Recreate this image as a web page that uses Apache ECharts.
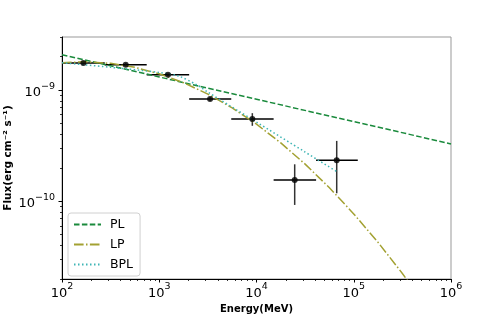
<!DOCTYPE html>
<html><head><meta charset="utf-8">
<script src="https://cdn.jsdelivr.net/npm/echarts@6/dist/echarts.min.js"></script>
<style>html,body{margin:0;padding:0;background:#fff}#c{width:501px;height:314px}</style>
</head><body><div id="c"></div>
<script>
// Observed data points (MeV, erg cm^-2 s^-1)
const energy = [166, 452, 1230, 3330, 9060, 24700, 66800];
const flux = [1.75e-9, 1.69e-9, 1.37e-9, 8.3e-10, 5.48e-10, 1.556e-10, 2.34e-10];
const energyLow = [100, 275, 743, 2030, 5500, 15000, 41000];
const energyHigh = [275, 743, 2030, 5500, 15000, 41000, 110000];
const fluxLow = [1.70e-9, 1.64e-9, 1.33e-9, 8.0e-10, 4.77e-10, 9.27e-11, 1.18e-10];
const fluxHigh = [1.80e-9, 1.74e-9, 1.41e-9, 8.6e-10, 6.2e-10, 2.15e-10, 3.49e-10];

// Model curves
const plEnergy = [100, 1000, 10000, 100000, 1000000];
const plFlux = [2.08e-9, 1.311e-9, 8.26e-10, 5.21e-10, 3.28e-10];

const lpEnergy = [100, 177.8, 316.2, 562.3, 1000, 1778, 3162, 5623, 10000, 17783, 31623, 56234, 100000, 177828, 316228, 562341];
const lpFlux = [1.762e-9, 1.795e-9, 1.738e-9, 1.600e-9, 1.400e-9, 1.164e-9, 9.20e-10, 6.91e-10, 4.93e-10, 3.346e-10, 2.158e-10, 1.322e-10, 7.70e-11, 4.27e-11, 2.244e-11, 1.122e-11];

const bplEnergy = [100, 316.2, 1000, 1585, 2512, 3162, 10000, 31623, 66834];
const bplFlux = [1.762e-9, 1.601e-9, 1.439e-9, 1.334e-9, 1.096e-9, 9.58e-10, 5.15e-10, 2.77e-10, 1.85e-10];

const seriesNames = ['PL', 'LP', 'BPL'];

// Tick positions
const xMajorTicks = [1e2, 1e3, 1e4, 1e5, 1e6];
const xMinorTicks = [200, 300, 400, 500, 600, 700, 800, 900,
  2000, 3000, 4000, 5000, 6000, 7000, 8000, 9000,
  20000, 30000, 40000, 50000, 60000, 70000, 80000, 90000,
  200000, 300000, 400000, 500000, 600000, 700000, 800000, 900000];
const yMajorTicks = [1e-10, 1e-9];
const yMinorTicks = [2e-11, 3e-11, 4e-11, 5e-11, 6e-11, 7e-11, 8e-11, 9e-11,
  2e-10, 3e-10, 4e-10, 5e-10, 6e-10, 7e-10, 8e-10, 9e-10, 2e-9, 3e-9];

const FONT = 'DejaVu Sans';
const pair = (xs, ys) => xs.map((x, i) => [x, ys[i]]);

function powLabel(v) {
  const p = Math.round(Math.log10(v));
  return '{b|10}{s|' + (p < 0 ? '\u2212' : '') + Math.abs(p) + '}';
}
const labelRich = {
  b: { fontFamily: FONT, fontSize: 13, color: '#000', lineHeight: 18, verticalAlign: 'bottom' },
  s: { fontFamily: FONT, fontSize: 9.5, color: '#000', verticalAlign: 'top' }
};

const X = { min: 100, max: 1e6 };
const Y = { min: 2e-11, max: 3e-9 };

const chart = echarts.init(document.getElementById('c'), null, { renderer: 'canvas' });
chart.setOption({
  animation: false,
  backgroundColor: '#fff',
  grid: { left: 62, right: 50, top: 37, bottom: 35, show: true, borderColor: '#999', borderWidth: 1, backgroundColor: 'transparent', containLabel: false, outerBoundsMode: 'none' },
  legend: {
    data: seriesNames, orient: 'vertical', left: 68, top: 213,
    itemWidth: 27, itemHeight: 12, itemGap: 7,
    padding: [5, 7, 5, 5],
    itemStyle: { opacity: 0 },
    borderColor: '#d0d0d0', borderWidth: 1, borderRadius: 3, backgroundColor: '#fff',
    textStyle: { fontFamily: FONT, fontSize: 12.5, color: '#000', padding: [0, 0, 0, 4] }
  },
  xAxis: [{
    type: 'log', logBase: 10, min: X.min, max: X.max, position: 'bottom',
    axisLine: { show: true, onZero: false, lineStyle: { color: '#000', width: 1 } },
    axisTick: { show: true, length: 3.5, customValues: xMajorTicks, lineStyle: { color: '#000', width: 1 } },
    axisLabel: { customValues: xMajorTicks, formatter: powLabel, rich: labelRich, margin: 3, color: '#000' },
    splitLine: { show: false },
    name: 'Energy(MeV)', nameLocation: 'middle', nameGap: 17,
    nameTextStyle: { fontFamily: FONT, fontSize: 10, fontWeight: 'bold', color: '#000' }
  }, {
    type: 'log', logBase: 10, min: X.min, max: X.max, position: 'bottom',
    axisLine: { show: false, onZero: false },
    axisTick: { show: true, length: 2, customValues: xMinorTicks, lineStyle: { color: '#000', width: 0.8 } },
    axisLabel: { show: false },
    splitLine: { show: false }
  }],
  yAxis: [{
    type: 'log', logBase: 10, min: Y.min, max: Y.max, position: 'left',
    axisLine: { show: true, onZero: false, lineStyle: { color: '#000', width: 1 } },
    axisTick: { show: true, length: 3.5, customValues: yMajorTicks, lineStyle: { color: '#000', width: 1 } },
    axisLabel: { customValues: yMajorTicks, formatter: powLabel, rich: labelRich, margin: 7, color: '#000' },
    splitLine: { show: false },
    name: 'Flux(erg cm\u207B\u00B2 s\u207B\u00B9)', nameLocation: 'middle', nameGap: 48, nameMoveOverlap: false,
    nameTextStyle: { fontFamily: FONT, fontSize: 10.5, fontWeight: 'bold', color: '#000' }
  }, {
    type: 'log', logBase: 10, min: Y.min, max: Y.max, position: 'left',
    axisLine: { show: false, onZero: false },
    axisTick: { show: true, length: 2, customValues: yMinorTicks, lineStyle: { color: '#000', width: 0.8 } },
    axisLabel: { show: false },
    splitLine: { show: false }
  }],
  series: [
    {
      name: 'PL', type: 'line', data: pair(plEnergy, plFlux), symbol: 'none', z: 4,
      itemStyle: { color: '#1a8a3c' },
      lineStyle: { color: '#1a8a3c', width: 1.5, type: [5.5, 2.4] }
    },
    {
      name: 'LP', type: 'line', data: pair(lpEnergy, lpFlux), symbol: 'none', smooth: false, z: 4,
      itemStyle: { color: '#a3a132' },
      lineStyle: { color: '#a3a132', width: 1.5, type: [9.6, 2.4, 1.5, 2.4] }
    },
    {
      name: 'BPL', type: 'line', data: pair(bplEnergy, bplFlux), symbol: 'none', smooth: 0.3, z: 4,
      itemStyle: { color: '#3fb5b5' },
      lineStyle: { color: '#3fb5b5', width: 1.5, type: [1.5, 2.5] }
    },
    {
      name: 'errors', type: 'custom', z: 3,
      data: energy.map((e, i) => [e, flux[i], energyLow[i], energyHigh[i], fluxLow[i], fluxHigh[i]]),
      encode: { x: 0, y: 1 },
      renderItem: function (params, api) {
        const e = api.value(0), f = api.value(1);
        const a = api.coord([api.value(2), f]), b = api.coord([api.value(3), f]);
        const c = api.coord([e, api.value(4)]), d = api.coord([e, api.value(5)]);
        return {
          type: 'group', children: [
            { type: 'line', shape: { x1: a[0], y1: a[1], x2: b[0], y2: b[1] }, style: { stroke: '#000', lineWidth: 1.5 } },
            { type: 'line', shape: { x1: c[0], y1: c[1], x2: d[0], y2: d[1] }, style: { stroke: '#333', lineWidth: 1.5 } }
          ]
        };
      }
    },
    {
      name: 'points', type: 'scatter', data: pair(energy, flux), symbol: 'circle', symbolSize: 6, z: 5,
      itemStyle: { color: '#000' }
    }
  ]
});
</script>
</body></html>
